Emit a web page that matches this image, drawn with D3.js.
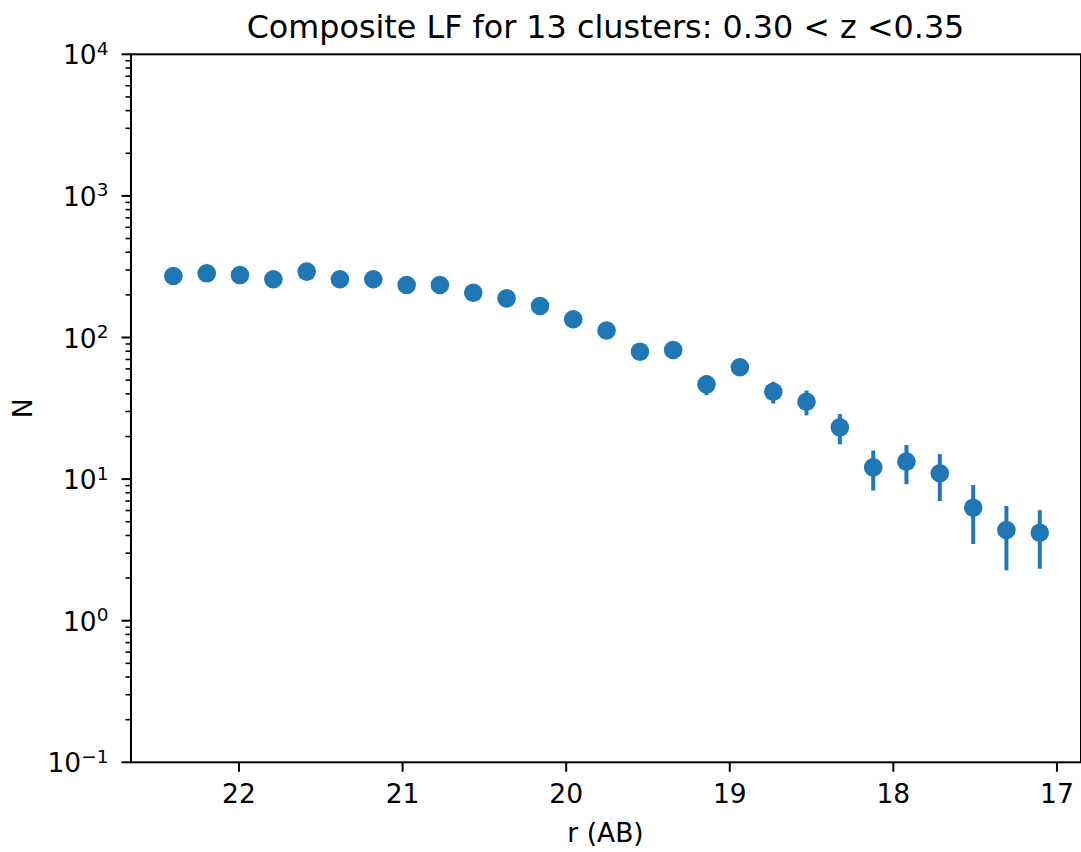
<!DOCTYPE html>
<html>
<head>
<meta charset="utf-8">
<script src="https://cdn.jsdelivr.net/npm/d3@7"></script>
<style>
  html, body { margin: 0; padding: 0; background: #fff; }
  svg { display: block; font-family: "DejaVu Sans", sans-serif; }
</style>
</head>
<body>
<svg id="chart" width="1081" height="852"></svg>
<script>
// ---- data ----
const titleText = "Composite LF for 13 clusters: 0.30 < z <0.35";
const xLabelText = "r (AB)";
const yLabelText = "N";
// bin centres in r (AB) magnitude
const mags = [22.398, 22.194, 21.991, 21.787, 21.583, 21.380, 21.176, 20.972, 20.769, 20.565,
              20.361, 20.157, 19.954, 19.750, 19.546, 19.343, 19.139, 18.935, 18.731, 18.528,
              18.324, 18.120, 17.917, 17.713, 17.509, 17.306, 17.102];
// composite counts
const counts = [272, 284, 276, 258, 292, 258, 258, 235, 235, 207,
                189, 167, 134.5, 112, 79.4, 81.6, 46.7, 61.6, 41.4, 35.2,
                23.2, 12.1, 13.3, 11.0, 6.28, 4.37, 4.18];
// symmetric errors
const errors = [16, 17, 17, 16, 17, 16, 16, 15, 15, 14,
                14, 13, 12, 11, 9, 9, 7.5, 8, 7.2, 7.0,
                5.6, 3.8, 4.1, 4.0, 2.8, 2.1, 1.85];
const xTicks = [22, 21, 20, 19, 18, 17];
const yTickExps = [-1, 0, 1, 2, 3, 4];

// ---- layout ----
const svg = d3.select("#chart");
const L = 131, R = 1081, T = 54.3, B = 762.3;
const color = "#1f77b4";

const x = d3.scaleLinear().domain([22.657, 16.85]).range([L, R]);
const y = d3.scaleLog().domain([0.1, 1e4]).range([B, T]);

svg.append("rect").attr("width", 1081).attr("height", 852).attr("fill", "#fff");

const data = mags.map((m, i) => ({ m, n: counts[i], e: errors[i] }));

// error bars
svg.append("g").selectAll("line").data(data).join("line")
  .attr("x1", d => x(d.m)).attr("x2", d => x(d.m))
  .attr("y1", d => y(Math.max(d.n - d.e, 0.1))).attr("y2", d => y(d.n + d.e))
  .attr("stroke", color).attr("stroke-width", 4);

// markers
svg.append("g").selectAll("circle").data(data).join("circle")
  .attr("cx", d => x(d.m)).attr("cy", d => y(d.n))
  .attr("r", 9.3).attr("fill", color);

// x axis
const xAxis = d3.axisBottom(x).tickValues(xTicks).tickFormat(d3.format("d"))
  .tickSize(9.5).tickPadding(9);
const gx = svg.append("g").attr("transform", `translate(0,${B})`).call(xAxis);
gx.select(".domain").remove();
gx.selectAll(".tick line").attr("stroke", "#000").attr("stroke-width", 2);
gx.selectAll(".tick text").attr("font-size", 26.5).attr("fill", "#000")
  .attr("font-family", "DejaVu Sans").attr("dy", null).attr("y", 40.7);

// y axis major ticks (custom mathtext-like labels)
const gy = svg.append("g");
const majors = yTickExps.map(e => Math.pow(10, e));
gy.selectAll("line.maj").data(majors).join("line").attr("class", "maj")
  .attr("x1", L - 9.5).attr("x2", L).attr("y1", d => y(d)).attr("y2", d => y(d))
  .attr("stroke", "#000").attr("stroke-width", 2);
// minor ticks
const minors = [];
for (let e = -1; e < 4; e++) for (let k = 2; k <= 9; k++) minors.push(k * Math.pow(10, e));
gy.selectAll("line.min").data(minors).join("line").attr("class", "min")
  .attr("x1", L - 5.5).attr("x2", L).attr("y1", d => y(d)).attr("y2", d => y(d))
  .attr("stroke", "#000").attr("stroke-width", 1.6);

const labels = gy.selectAll("text.yl").data(yTickExps).join("text").attr("class", "yl")
  .attr("x", 108.5).attr("y", d => y(Math.pow(10, d)) + 10)
  .attr("text-anchor", "end").attr("font-size", 26.5).attr("fill", "#000");
labels.append("tspan").text("10");
labels.append("tspan").attr("font-size", 18.5).attr("dy", -9.5)
  .text(d => d < 0 ? "\u2212" + Math.abs(d) : String(d));

// spines
const sp = svg.append("g").attr("stroke", "#000").attr("stroke-width", 2).attr("fill", "none");
sp.append("rect").attr("x", L).attr("y", T).attr("width", R - L).attr("height", B - T);

// title and labels
svg.append("text").attr("x", 605.5).attr("y", 38).attr("text-anchor", "middle")
  .attr("font-size", 31.8).attr("fill", "#000").text(titleText);
svg.append("text").attr("x", 605.5).attr("y", 842).attr("text-anchor", "middle")
  .attr("font-size", 26.5).attr("fill", "#000").text(xLabelText);
svg.append("text").attr("transform", `translate(32,${(T + B) / 2}) rotate(-90)`)
  .attr("text-anchor", "middle").attr("font-size", 26.5).attr("fill", "#000").text(yLabelText);
</script>
</body>
</html>
